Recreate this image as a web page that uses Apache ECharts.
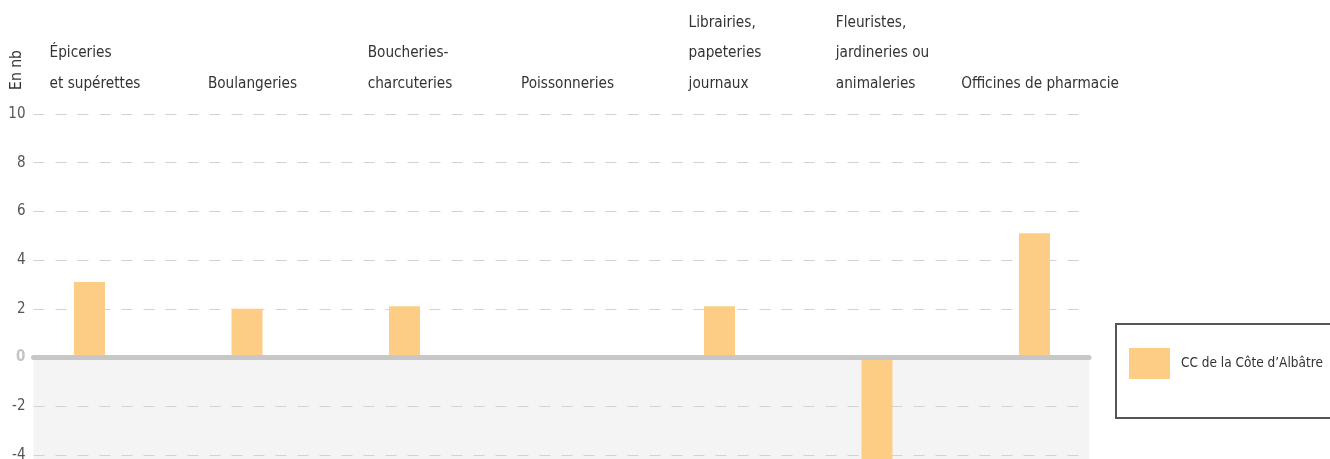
<!DOCTYPE html>
<html>
<head>
<meta charset="utf-8">
<title>Commerces - CC de la Côte d'Albâtre</title>
<script src="https://cdn.jsdelivr.net/npm/echarts@6/dist/echarts.min.js"></script>
<style>
  html, body { margin: 0; padding: 0; background: #fff; overflow: hidden; }
  #chart { width: 1330px; height: 520px; }
</style>
</head>
<body>
<div id="chart"></div>
<script>
// données
const categories = [
  'Épiceries\net supérettes',
  'Boulangeries',
  'Boucheries-\ncharcuteries',
  'Poissonneries',
  'Librairies,\npapeteries\njournaux',
  'Fleuristes,\njardineries ou\nanimaleries',
  'Officines de pharmacie'
];
const seriesName = 'CC de la Côte d\u2019Albâtre';
const values = [3.1, 2, 2.1, 0, 2.1, -5, 5.1];
const yTicks = { min: -6, max: 10, interval: 2 };
const yName = 'En nb';

const FONT = "'Liberation Sans Narrow', 'DejaVu Sans Condensed', 'Noto Sans', sans-serif";
const BAR_COLOR = '#fdcd85';

const chart = echarts.init(document.getElementById('chart'), null, { renderer: 'canvas' });

// grille 0 : fond, quadrillage et ligne du zéro ; grille 1 : barres et libellés
const option = {
  animation: false,
  textStyle: { fontFamily: FONT },
  grid: [
    { left: 33.5, right: 241, top: 114, bottom: 16.4 },
    { left: 10.75, right: 216.75, top: 114, bottom: 16.4 }
  ],
  xAxis: [
    {
      type: 'category', gridIndex: 0, data: categories, z: 4,
      axisLabel: { show: false }, axisTick: { show: false }, splitLine: { show: false },
      axisLine: { onZero: true, lineStyle: { color: '#c6c7c6', width: 5 } }
    },
    {
      type: 'category', gridIndex: 1, data: categories, position: 'top',
      axisLine: { show: false }, axisTick: { show: false }, splitLine: { show: false },
      axisLabel: {
        margin: 15,
        interval: 0,
        formatter: v => v.split('\n').map(l => '{l|' + l + '}').join('\n'),
        rich: {
          l: { align: 'left', fontSize: 15.2, lineHeight: 30.5, color: '#333', fontFamily: FONT, padding: [0, 0, 0, 11] }
        }
      }
    }
  ],
  yAxis: [
    {
      type: 'value', gridIndex: 0, z: 2,
      min: yTicks.min, max: yTicks.max, interval: yTicks.interval,
      axisLine: { show: false }, axisTick: { show: false },
      splitLine: { lineStyle: { color: '#d2d2d2', width: 1, type: [11, 11] } },
      axisLabel: {
        margin: 8, fontSize: 15, color: '#555', fontFamily: FONT,
        formatter: v => v === 0 ? '{z|0}' : String(v),
        rich: { z: { fontSize: 15, fontWeight: 'bold', color: '#c4c4c4', fontFamily: FONT } }
      }
    },
    {
      type: 'value', gridIndex: 1, show: false,
      min: yTicks.min, max: yTicks.max, interval: yTicks.interval,
      splitLine: { show: false }
    }
  ],
  legend: {
    left: 1116, top: 324,
    padding: [24, 40, 39, 13],
    borderColor: '#555', borderWidth: 2,
    itemWidth: 41, itemHeight: 31,
    icon: 'rect',
    data: [seriesName],
    textStyle: { fontSize: 13.5, color: '#333', fontFamily: FONT, padding: [0, 0, 0, 6] }
  },
  series: [
    {
      // zone négative grisée
      type: 'line', xAxisIndex: 0, yAxisIndex: 0, data: [], silent: true,
      markArea: {
        silent: true,
        itemStyle: { color: '#f4f4f4' },
        data: [[{ yAxis: 0 }, { yAxis: yTicks.min }]]
      }
    },
    {
      name: seriesName, type: 'bar', xAxisIndex: 1, yAxisIndex: 1, z: 3,
      barWidth: 31, data: values,
      itemStyle: { color: BAR_COLOR }
    }
  ],
  graphic: [
    {
      type: 'text', x: 17, y: 70, rotation: Math.PI / 2,
      style: { text: yName, fontSize: 15.5, fill: '#333', fontFamily: FONT, align: 'center', verticalAlign: 'middle' }
    }
  ]
};

chart.setOption(option);
</script>
</body>
</html>
